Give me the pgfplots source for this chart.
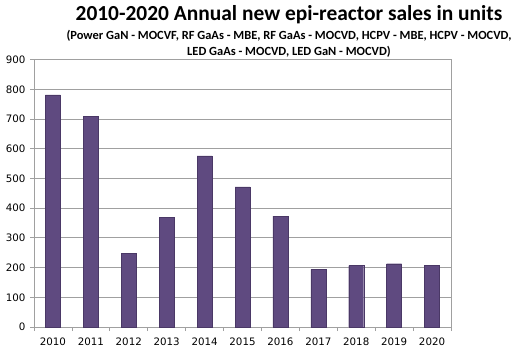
\documentclass[border=0pt]{standalone}
\usepackage{pgfplots}
\pgfplotsset{compat=1.18}
\usepackage{fontspec}
\setmainfont{Carlito}
\newfontfamily\dejavu{DejaVu Sans}
\definecolor{barpurple}{HTML}{5F4A80}
\definecolor{baredge}{HTML}{4A3866}
\definecolor{gridgray}{HTML}{A0A0A0}
\begin{document}
\begin{tikzpicture}[x=1bp,y=1bp]
\path[use as bounding box] (-34,-30) rectangle (496,327);
\begin{axis}[
  at={(0,0)}, anchor=south west,
  scale only axis, width=417bp, height=267.4bp,
  xmin=-0.5, xmax=10.5, ymin=0, ymax=900,
  ytick={0,100,...,900},
  xtick={0,...,10},
  xticklabels={2010,2011,2012,2013,2014,2015,2016,2017,2018,2019,2020},
  minor xtick={-0.5,0.5,...,10.5},
  ymajorgrids, grid style={gridgray, line width=0.8bp},
  axis line style={gridgray, line width=0.8bp},
  tick style={gridgray, line width=0.8bp},
  x tick style={draw=none},
  minor x tick style={draw=gridgray},
  tick align=outside, major tick length=4bp, minor tick length=4bp,
  xtick pos=bottom, ytick pos=left,
  ticklabel style={font=\dejavu\fontsize{10.3}{12}\selectfont, text=black},
  /pgf/number format/assume math mode=true,
  xticklabel style={yshift=-3bp},
  yticklabel style={xshift=-1bp},
  ybar, bar width=15bp,
  axis on top=false,
]
\addplot[fill=barpurple, draw=baredge, line width=0.4bp] coordinates {
(0,781) (1,708) (2,249) (3,370) (4,576) (5,472) (6,373) (7,194) (8,207) (9,213) (10,207)};
\end{axis}
\node[font=\bfseries\fontsize{21.5}{24}\selectfont] at (255,312) {2010-2020 Annual new epi-reactor sales in units};
\node[font=\bfseries\fontsize{12.5}{14}\selectfont] at (255,291) {(Power GaN - MOCVF, RF GaAs - MBE, RF GaAs - MOCVD, HCPV - MBE, HCPV - MOCVD,};
\node[font=\bfseries\fontsize{12.5}{14}\selectfont] at (255,275) {LED GaAs - MOCVD, LED GaN - MOCVD)};
\end{tikzpicture}
\end{document}
